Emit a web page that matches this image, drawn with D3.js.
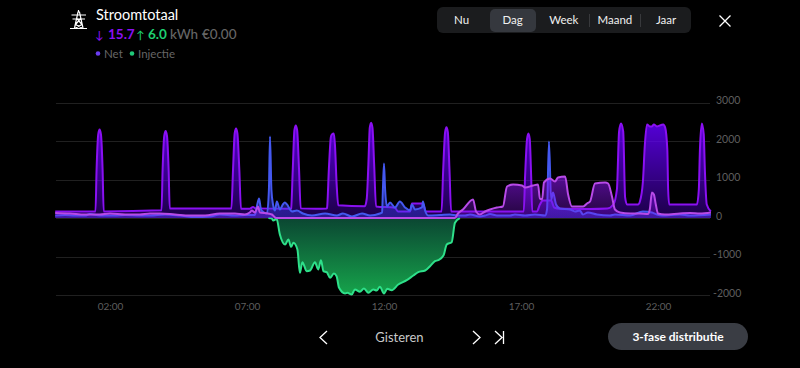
<!DOCTYPE html>
<html>
<head>
<meta charset="utf-8">
<script src="https://cdnjs.cloudflare.com/ajax/libs/d3/7.8.5/d3.min.js"></script>
<style>
  html, body { margin: 0; background: #000; overflow: hidden; }
  text { font-family: Lato, sans-serif; }
  .tick line, .domain { display: none; }
</style>
</head>
<body>
<svg id="chart" width="800" height="368"></svg>
<script>
// values, hours of the day and watts
const netHours = [0,1.47,1.51,1.57,1.62,1.67,1.73,1.77,3.88,3.92,3.98,4.03,4.08,4.14,4.18,6.43,6.49,6.55,6.6,6.65,6.72,6.78,7.1,7.22,7.32,8.6,8.61,8.67,8.73,8.78,8.83,8.9,8.96,9.5,9.9,9.92,9.99,10.06,10.1,10.17,10.21,10.27,10.33,11.3,11.37,11.43,11.48,11.53,11.58,11.64,11.71,12.4,12.51,12.95,13.02,13.42,13.53,14.1,14.16,14.23,14.28,14.33,14.39,14.45,17.1,17.15,17.22,17.27,17.32,17.37,17.41,17.58,17.69,17.8,18.1,18.21,18.42,19.5,20.15,20.37,20.5,20.58,20.65,20.73,20.8,20.87,21.27,21.34,21.45,21.52,21.6,21.7,21.78,21.85,21.96,22.19,22.26,22.34,22.37,22.41,23.42,23.49,23.53,23.6,23.67,23.71,23.78,23.93];
const netValues = [170,170,1250,2170,2300,2170,1250,170,200,1250,2130,2257,2130,1250,247,247,1250,2200,2327,2200,1250,240,240,285,250,240,247,1250,2280,2405,2280,1250,250,240,245,260,1300,2100,2171,2197,1900,900,330,307,500,1400,2340,2475,2340,1400,300,265,170,170,375,375,170,170,1250,2230,2360,2230,1250,170,170,1100,2050,2197,2050,1100,170,170,350,455,455,273,240,234,247,351,741,2249,2457,2249,533,351,351,430,950,1900,2431,2379,2379,2431,2379,2431,2353,1781,741,351,351,741,1781,2457,2171,1261,351,170];

const phaseBHours = [0,0.54,1.09,1.63,2,2.55,3.09,3.46,3.82,4.37,4.92,5.47,6.01,6.56,6.92,7.1,7.18,7.29,7.4,7.47,7.77,7.91,8.06,14.59,14.7,14.88,15.25,15.36,15.5,15.69,15.87,16.12,16.34,16.49,16.71,17.04,17.15,17.44,17.62,17.69,17.77,17.84,18.06,18.24,18.35,18.61,18.72,18.86,19.27,19.41,19.52,19.7,20.07,20.18,20.32,20.43,20.61,20.98,21.34,21.63,21.7,21.78,21.85,21.92,22,22.25,22.8,23.17,23.53,23.93];
const phaseBValues = [130,117,91,91,117,91,91,117,117,91,65,65,117,117,91,143,195,143,299,143,117,91,0,0,117,221,481,169,91,169,221,273,299,819,871,845,793,845,871,507,481,923,1027,949,1053,1079,611,299,299,377,429,897,923,897,559,221,143,117,117,104,221,663,611,351,117,91,117,130,117,143];

const phaseCHours = [0,0.36,0.72,1.09,1.27,1.63,2.18,2.55,3.09,3.46,4.01,4.55,5.1,5.65,6.01,6.56,6.92,7.29,7.36,7.44,7.51,7.62,7.73,7.8,7.84,7.89,7.95,8.02,8.09,8.2,8.31,8.38,8.46,8.57,8.64,8.82,9.04,9.37,9.85,10.28,10.5,10.83,11.2,11.49,11.85,11.93,11.96,12,12.04,12.11,12.22,12.4,12.58,12.77,12.95,13.02,13.13,13.39,13.42,13.5,13.61,14.05,14.41,14.67,14.96,15.14,15.5,15.69,15.87,16.12,16.6,16.78,17.15,17.51,17.88,17.95,18.02,18.1,18.17,18.28,18.42,18.79,18.97,19.15,19.26,19.44,19.77,20.25,20.43,20.98,21.45,21.78,21.96,22.15,22.8,23.17,23.93];
const phaseCValues = [65,78,65,65,104,65,65,78,65,65,91,65,26,39,91,65,78,78,299,507,221,143,117,741,2119,741,351,195,429,221,351,403,351,221,169,195,117,65,117,65,117,39,117,65,117,143,741,1417,741,299,403,273,429,273,195,351,221,273,429,195,65,78,91,65,65,91,39,65,104,65,65,91,65,91,65,221,1989,481,663,351,247,221,169,195,91,143,91,65,91,65,169,143,91,65,91,65,91];

const injectieHours = [7.78,7.9,7.96,8.08,8.2,8.39,8.51,8.61,8.69,8.84,8.93,9.02,9.18,9.3,9.48,9.6,9.7,9.79,9.91,10.03,10.17,10.27,10.36,10.58,10.66,10.82,10.94,11.12,11.27,11.43,11.61,11.73,11.85,12,12.12,12.28,12.52,12.83,13.07,13.25,13.5,13.68,13.86,13.98,14.17,14.29,14.47,14.59,14.77];
const injectieValues = [0,-10,-65,-20,-428,-688,-558,-749,-645,-818,-1424,-1147,-1381,-1364,-1147,-1338,-1095,-1381,-1407,-1554,-1442,-1511,-1814,-1961,-1944,-1987,-1857,-1918,-1831,-1944,-1857,-1883,-1788,-1961,-1840,-1875,-1728,-1615,-1494,-1407,-1364,-1251,-1121,-1095,-974,-688,-628,-125,0];

const yTicks = [3000, 2000, 1000, 0, -1000, -2000];
const xTicks = [2, 7, 12, 17, 22];
const tabLabels = ["Nu", "Dag", "Week", "Maand", "Jaar"];

const svg = d3.select("#chart");

const xScale = d3.scaleLinear().domain([0, 24]).range([55.2, 712.8]);
const yScale = d3.scaleLinear().domain([-2000, 3000]).range([295, 102.5]);

// gradients
const defs = svg.append("defs");
function addGradient(id, top, bottom, c, o1, o2) {
  const g = defs.append("linearGradient").attr("id", id)
    .attr("gradientUnits", "userSpaceOnUse")
    .attr("x1", 0).attr("x2", 0).attr("y1", yScale(top)).attr("y2", yScale(bottom));
  g.append("stop").attr("offset", 0).attr("stop-color", c).attr("stop-opacity", o1);
  g.append("stop").attr("offset", 1).attr("stop-color", c).attr("stop-opacity", o2);
}
addGradient("gradNet", 2500, 0, "#6400ff", 0.85, 0.28);
addGradient("gradB", 1100, 0, "#8a14f0", 0.62, 0.25);
addGradient("gradC", 2000, 0, "#3a40f0", 0.5, 0.4);
defs.append("linearGradient").attr("id", "gradInj")
  .attr("gradientUnits", "userSpaceOnUse")
  .attr("x1", 0).attr("x2", 0).attr("y1", yScale(0)).attr("y2", yScale(-2000))
  .call(g => {
    g.append("stop").attr("offset", 0).attr("stop-color", "#0b4632");
    g.append("stop").attr("offset", 1).attr("stop-color", "#16a44b");
  });

// grid
svg.append("g").selectAll("line").data(yTicks).join("line")
  .attr("x1", 56).attr("x2", 710)
  .attr("y1", d => Math.round(yScale(d)) + 0.5).attr("y2", d => Math.round(yScale(d)) + 0.5)
  .attr("stroke", "#202020");

// axes
const yAxis = svg.append("g").attr("transform", "translate(710,0)")
  .call(d3.axisRight(yScale).tickValues(yTicks).tickSize(0).tickPadding(6).tickFormat(d => String(d)));
yAxis.selectAll("text").attr("fill", "#5e5e5e").style("font-size", "10.5px").attr("dy", "0.12em")
  .attr("dx", d => d < 0 ? -3 : 0);

const xAxis = svg.append("g").attr("transform", "translate(0,303)")
  .call(d3.axisBottom(xScale).tickValues(xTicks).tickSize(0).tickPadding(0)
    .tickFormat(d => String(d).padStart(2, "0") + ":00"));
xAxis.selectAll("text").attr("fill", "#5e5e5e").style("font-size", "10px");

// series
function drawSeries(hours, values, fill, color) {
  const rows = hours.map((h, i) => ({ h: h, v: values[i] }));
  const area = d3.area().x(d => xScale(d.h)).y0(yScale(0)).y1(d => yScale(d.v)).curve(d3.curveMonotoneX);
  const line = d3.line().x(d => xScale(d.h)).y(d => yScale(d.v)).curve(d3.curveMonotoneX);
  svg.append("path").datum(rows).attr("d", area).attr("fill", fill);
  svg.append("path").datum(rows).attr("d", line).attr("fill", "none")
    .attr("stroke", color).attr("stroke-width", 2).attr("stroke-linejoin", "round");
}
drawSeries(injectieHours, injectieValues, "url(#gradInj)", "#2ee08a");
drawSeries(netHours, netValues, "url(#gradNet)", "#8a10f2");
drawSeries(phaseCHours, phaseCValues, "url(#gradC)", "#4458f0");
drawSeries(phaseBHours, phaseBValues, "url(#gradB)", "#b84ae8");

// header
const icon = svg.append("g").attr("stroke", "#fff").attr("fill", "none").attr("stroke-width", 1.2);
icon.append("path").attr("d", "M70 28.5H87 M74.5 28L78 12H79.5L83 28 M78.5 10V12 M71.5 15H86 M72.5 19H85 M76.5 18L81.5 24 M81 18L76 24 M75.5 24.5L82 28 M82 24.5L75.5 28");

svg.append("text").attr("x", 96).attr("y", 20).attr("fill", "#fff").style("font-size", "14.5px").text("Stroomtotaal");
const stats = svg.append("text").attr("y", 38.5).style("font-size", "13.5px").style("font-weight", 500);
stats.append("tspan").attr("x", 95).attr("fill", "#8a10f2").style("font-size", "11px").text("↓");
stats.append("tspan").attr("x", 108).attr("fill", "#8a10f2").style("font-weight", 700).text("15.7");
stats.append("tspan").attr("x", 136).attr("fill", "#1fd070").style("font-size", "11px").text("↑");
stats.append("tspan").attr("x", 148).attr("fill", "#1fd070").style("font-weight", 700).text("6.0");
stats.append("tspan").attr("x", 170).attr("fill", "#666").text("kWh");
stats.append("tspan").attr("x", 202).attr("fill", "#666").text("€0.00");

svg.append("circle").attr("cx", 98).attr("cy", 53.5).attr("r", 2.3).attr("fill", "#6a3df0");
svg.append("text").attr("x", 104).attr("y", 58).attr("fill", "#666").style("font-size", "11.5px").text("Net");
svg.append("circle").attr("cx", 132).attr("cy", 53.5).attr("r", 2.3).attr("fill", "#1fc97a");
svg.append("text").attr("x", 138).attr("y", 58).attr("fill", "#666").style("font-size", "11.5px").text("Injectie");

// tabs
svg.append("rect").attr("x", 437).attr("y", 7).attr("width", 254).attr("height", 26).attr("rx", 6).attr("fill", "#1b1c1e");
svg.append("rect").attr("x", 490).attr("y", 9).attr("width", 46).attr("height", 23).attr("rx", 5).attr("fill", "#35383e");
const tabX = d3.scalePoint().domain(tabLabels).range([461.5, 666]);
svg.append("g").selectAll("text").data(tabLabels).join("text")
  .attr("x", d => tabX(d)).attr("y", 24).attr("text-anchor", "middle")
  .attr("fill", "#f0f0f0").style("font-size", "11.5px").text(d => d);
svg.append("path").attr("d", "M589.5 14V27 M640.5 14V27").attr("stroke", "#38393c");
svg.append("path").attr("d", "M719.5 15.5L730.5 26.5 M730.5 15.5L719.5 26.5").attr("stroke", "#fff").attr("stroke-width", 1.3).attr("fill", "none");

// bottom nav
svg.append("path").attr("d", "M327 331L320 337.5L327 344 M473 331L480 337.5L473 344 M495 331L502 337.5L495 344 M503.5 331V344")
  .attr("stroke", "#fff").attr("stroke-width", 1.3).attr("fill", "none");
svg.append("text").attr("x", 399.5).attr("y", 342).attr("text-anchor", "middle").attr("fill", "#c8c8c8").style("font-size", "13px").text("Gisteren");
svg.append("rect").attr("x", 608).attr("y", 323).attr("width", 140).attr("height", 27).attr("rx", 13.5).attr("fill", "#3a3d44");
svg.append("text").attr("x", 678).attr("y", 341).attr("text-anchor", "middle").attr("fill", "#fff")
  .style("font-size", "12px").style("font-weight", 700).text("3-fase distributie");
</script>
</body>
</html>
